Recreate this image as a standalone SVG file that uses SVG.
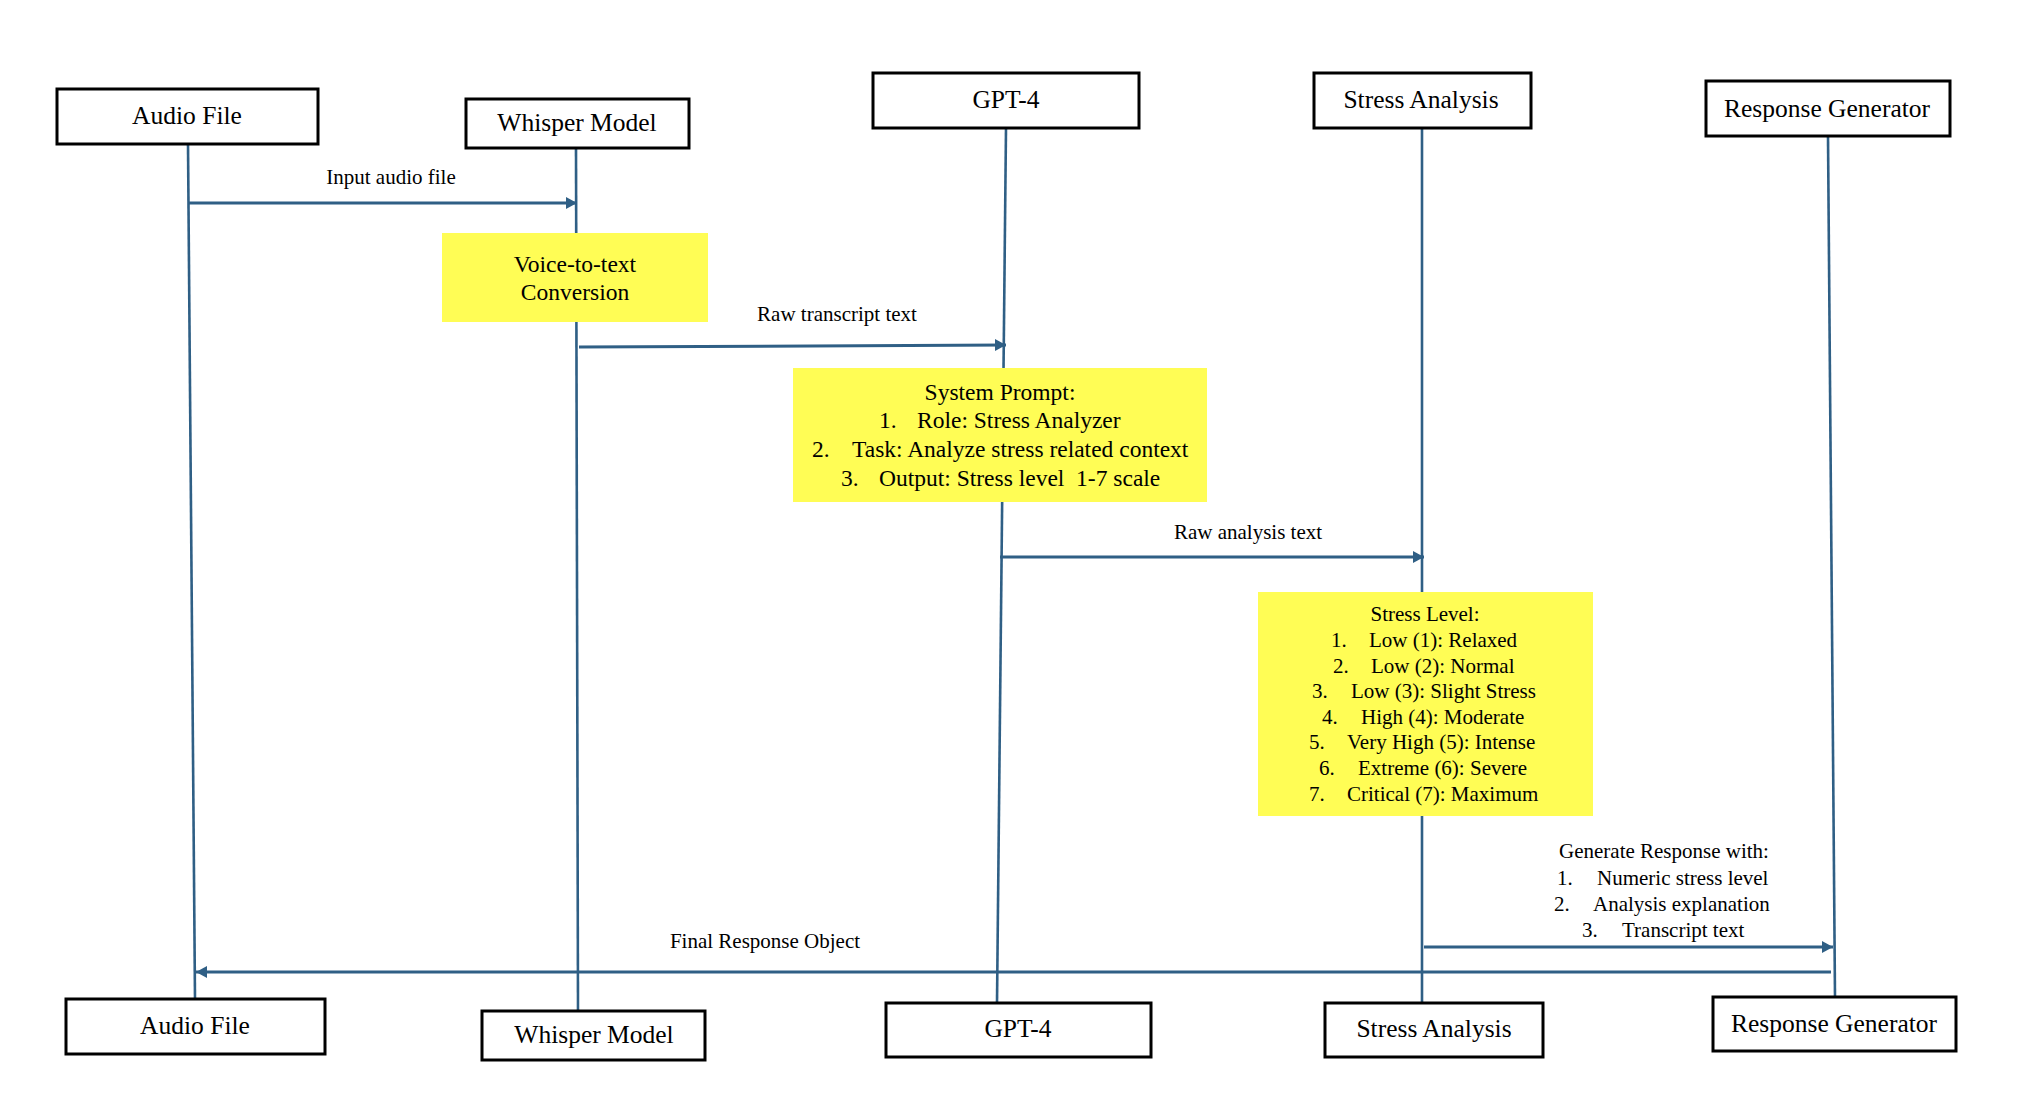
<svg xmlns="http://www.w3.org/2000/svg" width="2038" height="1104" viewBox="0 0 2038 1104">
<style>
text{font-family:"Liberation Serif","Times New Roman",serif;fill:#000}
.box{fill:#fff;stroke:#000;stroke-width:3}
.note{fill:#FFFD55;stroke:none}
.life{stroke:#2F5F85;stroke-width:2.6;fill:none}
.msg{stroke:#2F5F85;stroke-width:3;fill:none;marker-end:url(#ah)}
.t26{font-size:25.5px;text-anchor:middle}
.t21{font-size:21px}
.t235{font-size:23.5px}
.c{text-anchor:middle}
.pre{white-space:pre}
</style>
<defs>
<marker id="ah" markerUnits="userSpaceOnUse" markerWidth="13" markerHeight="13" refX="11" refY="6" orient="auto">
<path d="M0,0 L11,6 L0,12 z" fill="#2F5F85"/>
</marker>
</defs>
<rect width="2038" height="1104" fill="#fff"/>
<g id="lifelines">
<line class="life" x1="188" y1="144" x2="195" y2="999"/>
<line class="life" x1="576" y1="148" x2="578" y2="1011"/>
<line class="life" x1="1006" y1="128" x2="997" y2="1003"/>
<line class="life" x1="1422" y1="128" x2="1422" y2="1003"/>
<line class="life" x1="1828" y1="136" x2="1835" y2="997"/>
</g>
<g id="connectors">
<line class="msg" x1="188" y1="203" x2="577" y2="203"/>
<line class="msg" x1="579" y1="347" x2="1006" y2="345"/>
<line class="msg" x1="1000" y1="557" x2="1424" y2="557"/>
<line class="msg" x1="1424" y1="947" x2="1833" y2="947"/>
<line class="msg" x1="1831" y1="972" x2="196" y2="972"/>
<text class="t21 c" x="391" y="184">Input audio file</text>
<text class="t21 c" x="837" y="321">Raw transcript text</text>
<text class="t21 c" x="1248" y="539">Raw analysis text</text>
<text class="t21 c" x="765" y="948">Final Response Object</text>
<g id="generate-label" class="t21">
<text class="c" x="1664" y="858">Generate Response with:</text>
<text x="1557" y="885">1.</text><text x="1597" y="885">Numeric stress level</text>
<text x="1554" y="911">2.</text><text x="1593" y="911">Analysis explanation</text>
<text x="1582" y="937">3.</text><text x="1622" y="937">Transcript text</text>
</g>
</g>
<g id="audio-top"><rect class="box" x="57" y="89" width="261" height="55"/><text class="t26" x="187" y="124">Audio File</text></g>
<g id="whisper-top"><rect class="box" x="466" y="99" width="223" height="49"/><text class="t26" x="577" y="131">Whisper Model</text></g>
<g id="gpt4-top"><rect class="box" x="873" y="73" width="266" height="55"/><text class="t26" x="1006" y="108">GPT-4</text></g>
<g id="stress-top"><rect class="box" x="1314" y="73" width="217" height="55"/><text class="t26" x="1421" y="108">Stress Analysis</text></g>
<g id="response-top"><rect class="box" x="1706" y="81" width="244" height="55"/><text class="t26" x="1827" y="117">Response Generator</text></g>
<g id="voice-note"><rect class="note" x="442" y="233" width="266" height="89"/>
<text class="t235 c" x="575" y="272">Voice-to-text</text><text class="t235 c" x="575" y="300">Conversion</text></g>
<g id="prompt-note" class="t235"><rect class="note" x="793" y="368" width="414" height="134"/>
<text class="c" x="1000" y="400">System Prompt:</text>
<text x="879" y="428">1.</text><text x="917" y="428">Role: Stress Analyzer</text>
<text x="812" y="457">2.</text><text x="852" y="457">Task: Analyze stress related context</text>
<text x="841" y="486">3.</text><text class="pre" x="879" y="486" xml:space="preserve">Output: Stress level  1-7 scale</text>
</g>
<g id="level-note" class="t21"><rect class="note" x="1258" y="592" width="335" height="224"/>
<text class="c" x="1425" y="621">Stress Level:</text>
<text x="1331" y="647">1.</text><text x="1369" y="647">Low (1): Relaxed</text>
<text x="1333" y="673">2.</text><text x="1371" y="673">Low (2): Normal</text>
<text x="1312" y="698">3.</text><text x="1351" y="698">Low (3): Slight Stress</text>
<text x="1322" y="724">4.</text><text x="1361" y="724">High (4): Moderate</text>
<text x="1309" y="749">5.</text><text x="1347" y="749">Very High (5): Intense</text>
<text x="1319" y="775">6.</text><text x="1358" y="775">Extreme (6): Severe</text>
<text x="1309" y="801">7.</text><text x="1347" y="801">Critical (7): Maximum</text>
</g>
<g id="audio-bottom"><rect class="box" x="66" y="999" width="259" height="55"/><text class="t26" x="195" y="1034">Audio File</text></g>
<g id="whisper-bottom"><rect class="box" x="482" y="1011" width="223" height="49"/><text class="t26" x="594" y="1043">Whisper Model</text></g>
<g id="gpt4-bottom"><rect class="box" x="886" y="1003" width="265" height="54"/><text class="t26" x="1018" y="1037">GPT-4</text></g>
<g id="stress-bottom"><rect class="box" x="1325" y="1003" width="218" height="54"/><text class="t26" x="1434" y="1037">Stress Analysis</text></g>
<g id="response-bottom"><rect class="box" x="1713" y="997" width="243" height="54"/><text class="t26" x="1834" y="1032">Response Generator</text></g>
</svg>
